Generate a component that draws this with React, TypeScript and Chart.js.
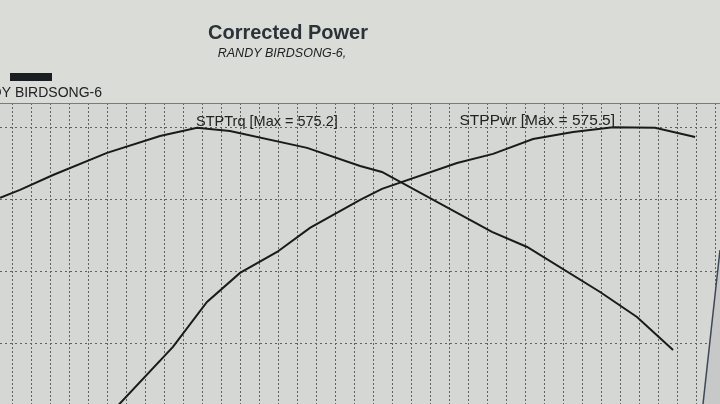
import React, { useEffect, useRef } from "react";
import { Chart, registerables } from "chart.js";

Chart.register(...registerables);

const titleText = "Corrected Power";
const subtitleText = "RANDY BIRDSONG-6,";
const legendText = "RANDY BIRDSONG-6";

const torqueRpm = [2937, 3042, 3216, 3500, 3779, 3974, 4147, 4553, 4832, 4947, 5526, 5711, 6095, 6289, 6479];
const torqueVal = [526.2, 531.8, 542.2, 557.6, 569.4, 575.2, 572.9, 561.1, 548.5, 544.3, 502.5, 492.0, 460.6, 443.2, 420.2];

const powerRpm = [3437, 3847, 4026, 4200, 4395, 4568, 4832, 4947, 5342, 5532, 5742, 5953, 6163, 6384, 6595];
const powerVal = [364.4, 422.3, 453.7, 473.9, 488.5, 505.3, 524.8, 532.5, 550.6, 556.9, 567.3, 572.2, 575.5, 575.1, 568.7];

const xGridTicks = [3000, 3100, 3200, 3300, 3400, 3500, 3600, 3700, 3800, 3900, 4000, 4100, 4200, 4300, 4400, 4500, 4600, 4700, 4800, 4900, 5000, 5100, 5200, 5300, 5400, 5500, 5600, 5700, 5800, 5900, 6000, 6100, 6200, 6300, 6400, 6500, 6600, 6700];
const yGridTicks = [425, 475, 525, 575];

const torqueLabel = "STPTrq [Max = 575.2]";
const powerLabel = "STPPwr [Max = 575.5]";

export default function App() {
  const ref = useRef<HTMLCanvasElement | null>(null);

  useEffect(() => {
    if (!ref.current) return;
    const decor = {
      id: "decor",
      beforeDraw(chart: any) {
        const { ctx, chartArea } = chart;
        ctx.save();
        ctx.fillStyle = "#dadcd8";
        ctx.fillRect(0, 0, chart.width, chart.height);
        ctx.fillStyle = "#d4d7d3";
        ctx.fillRect(chartArea.left, chartArea.top, chartArea.right - chartArea.left, chartArea.bottom - chartArea.top);
        ctx.restore();
      },
      afterDraw(chart: any) {
        const { ctx, chartArea } = chart;
        const xs = chart.scales.x;
        const ys = chart.scales.y;
        ctx.save();
        // top border
        ctx.strokeStyle = "#7a7c7a";
        ctx.lineWidth = 1;
        ctx.beginPath();
        ctx.moveTo(0, chartArea.top + 0.5);
        ctx.lineTo(chart.width, chartArea.top + 0.5);
        ctx.stroke();
        // slanted right edge of the screen frame
        ctx.fillStyle = "#c6c9c7";
        ctx.beginPath();
        ctx.moveTo(720, 250);
        ctx.lineTo(703, 404);
        ctx.lineTo(720, 404);
        ctx.closePath();
        ctx.fill();
        ctx.strokeStyle = "#3e4658";
        ctx.lineWidth = 1.5;
        ctx.beginPath();
        ctx.moveTo(720, 250);
        ctx.lineTo(703, 404);
        ctx.stroke();

        // title
        ctx.fillStyle = "#2b3238";
        ctx.textAlign = "center";
        ctx.textBaseline = "alphabetic";
        ctx.font = "bold 20px 'Liberation Sans', Arial, sans-serif";
        ctx.fillText(titleText, 288, 39);
        ctx.fillStyle = "#222";
        ctx.font = "italic 12.5px 'Liberation Sans', Arial, sans-serif";
        ctx.fillText(subtitleText, 282, 57);

        // legend
        ctx.fillStyle = "#1b1e21";
        ctx.fillRect(10, 73, 42, 8);
        ctx.fillStyle = "#222";
        ctx.textAlign = "right";
        ctx.font = "14px 'Liberation Sans', Arial, sans-serif";
        ctx.fillText(legendText, 102, 97);

        // peak labels
        const ti = torqueVal.indexOf(Math.max(...torqueVal));
        const pi = powerVal.indexOf(Math.max(...powerVal));
        ctx.fillStyle = "#222";
        ctx.textAlign = "left";
        ctx.font = "14.5px 'Liberation Sans', Arial, sans-serif";
        ctx.fillText(torqueLabel, xs.getPixelForValue(torqueRpm[ti]) - 1, ys.getPixelForValue(torqueVal[ti]) - 2);
        ctx.textAlign = "right";
        ctx.font = "15.5px 'Liberation Sans', Arial, sans-serif";
        ctx.fillText(powerLabel, xs.getPixelForValue(powerRpm[pi]) + 2, ys.getPixelForValue(powerVal[pi]) - 2);
        ctx.restore();
      },
    };

    const chart = new Chart(ref.current, {
      type: "line",
      data: {
        datasets: [
          {
            label: "STPTrq",
            data: torqueRpm.map((x, i) => ({ x, y: torqueVal[i] })),
            borderColor: "#1a1a1a",
            borderWidth: 2,
            pointRadius: 0,
            tension: 0,
            fill: false,
          },
          {
            label: "STPPwr",
            data: powerRpm.map((x, i) => ({ x, y: powerVal[i] })),
            borderColor: "#1a1a1a",
            borderWidth: 2,
            pointRadius: 0,
            tension: 0,
            fill: false,
          },
        ],
      },
      options: {
        animation: false,
        responsive: false,
        maintainAspectRatio: false,
        layout: { padding: { top: 103, left: 0, right: 0, bottom: 0 } },
        plugins: { legend: { display: false }, title: { display: false }, tooltip: { enabled: false } },
        scales: {
          x: {
            type: "linear",
            min: 2936.8,
            max: 6726,
            afterBuildTicks: (s: any) => {
              s.ticks = xGridTicks.map((v) => ({ value: v }));
            },
            ticks: { display: false },
            border: { display: false, dash: [2, 2] },
            grid: { color: "#5f625f", lineWidth: 1, drawTicks: false, tickLength: 0 },
          },
          y: {
            type: "linear",
            min: 382.5,
            max: 592.4,
            afterBuildTicks: (s: any) => {
              s.ticks = yGridTicks.map((v) => ({ value: v }));
            },
            ticks: { display: false },
            border: { display: false, dash: [2, 3] },
            grid: { color: "#5f625f", lineWidth: 1, drawTicks: false, tickLength: 0 },
          },
        },
      },
      plugins: [decor],
    } as any);

    return () => chart.destroy();
  }, []);

  return (
    <div style={{ position: "absolute", left: 0, top: 0, width: 720, height: 404, overflow: "hidden" }}>
      <canvas ref={ref} width={720} height={404} style={{ display: "block", width: 720, height: 404 }} />
    </div>
  );
}
